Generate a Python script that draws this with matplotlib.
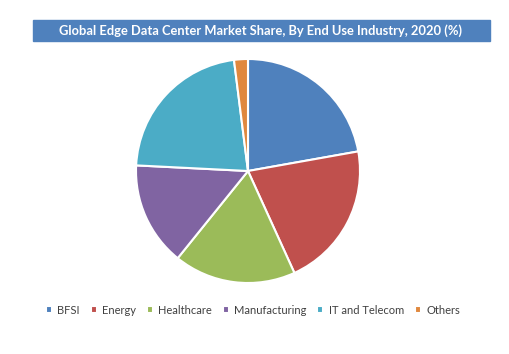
import matplotlib.pyplot as plt
from matplotlib.patches import Rectangle

categories = ['BFSI', 'Energy', 'Healthcare', 'Manufacturing', 'IT and Telecom', 'Others']
shares = [22.2, 21.0, 17.6, 15.0, 22.2, 2.0]
colors = ['#4F81BD', '#C0504D', '#9BBB59', '#8064A2', '#4BACC6', '#E0883E']

plt.rcParams['font.family'] = ['Lato', 'DejaVu Sans']

fig = plt.figure(figsize=(5.1, 3.54), dpi=100)

# title banner
fig.patches.append(Rectangle((33 / 510, 1 - 41 / 354), 457 / 510, 21 / 354,
                             transform=fig.transFigure, color='#4F81BD', zorder=0))
fig.text(261 / 510, 1 - 31 / 354,
         'Global Edge Data Center Market Share, By End Use Industry, 2020 (%)',
         ha='center', va='center', color='white', fontsize=9.3, fontweight='bold')

# pie
r = 112
ax = fig.add_axes([(248 - r) / 510, 1 - (171 + r) / 354, 2 * r / 510, 2 * r / 354])
wedges, _ = ax.pie(shares, colors=colors, startangle=90, counterclock=False,
                   wedgeprops=dict(edgecolor='white', linewidth=1.5))
ax.set_aspect('auto')
ax.set_xlim(-1, 1)
ax.set_ylim(-1, 1)

# legend
fig.legend(wedges, categories, loc='center', bbox_to_anchor=(253 / 510, 1 - 310 / 354),
           ncol=6, frameon=False, fontsize=8, handlelength=0.55, handleheight=0.55,
           handletextpad=0.5, columnspacing=0.95, labelcolor='#404040')

fig.savefig('out.png', dpi=100)
